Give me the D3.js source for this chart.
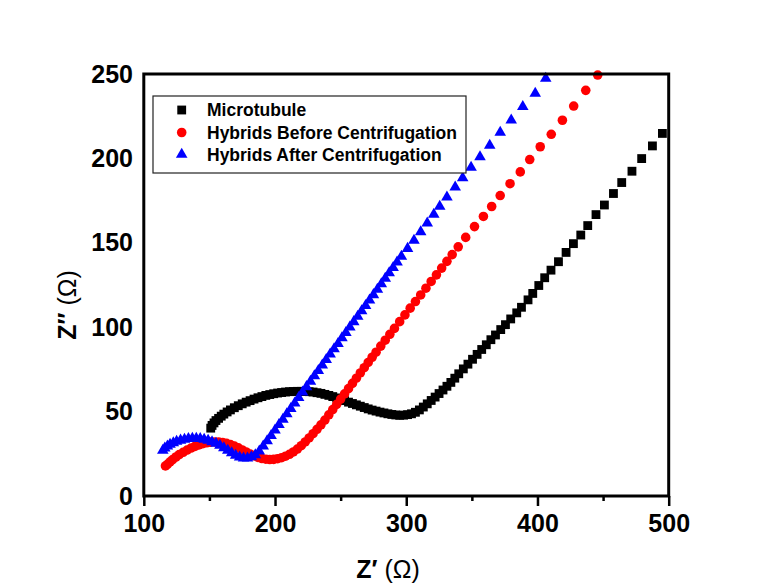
<!DOCTYPE html>
<html>
<head>
<meta charset="utf-8">
<script src="https://cdn.jsdelivr.net/npm/d3@7"></script>
<style>
  html, body { margin: 0; padding: 0; background: #fff; }
  svg { display: block; }
  text { font-family: "Liberation Sans", Arial, sans-serif; }
</style>
</head>
<body>
<svg id="chart" width="763" height="585"></svg>
<script>
// ---------------- data ----------------
const xTicks = [100, 200, 300, 400, 500];
const xMinorTicks = [150, 250, 350, 450];
const yTicks = [0, 50, 100, 150, 200, 250];

const seriesNames = ["Microtubule", "Hybrids Before Centrifugation", "Hybrids After Centrifugation"];

const microX = [151,152,153.5,155,157,159,161,163.5,166,169,172,175,178,181,184,187,190,193,196,199,202,205,208,211,214,217,220,223,226,229,232,235,238,241,244,247,250,253,256,259,262,265,268,271,274,277,280,283,286,289,292,295,298,301,304,307,310,313,316,319,322,325,328,331,334,337,340,343.5,347,350.5,354,357.5,361,364.5,368,372,375.6,379.6,384.2,387.8,392.8,396.4,401,405.5,410.3,416,421.8,427.4,433,438.3,444.6,451,457.9,464.2,472,479.4,487.6,495.2];
const microY = [40.2,41.8,43.3,44.7,46,47.3,48.5,49.8,51,52.3,53.5,54.6,55.6,56.5,57.4,58.2,58.9,59.6,60.1,60.6,61,61.3,61.6,61.8,61.9,62,62,61.9,61.8,61.6,61.2,60.8,60.2,59.6,58.9,58.1,57.3,56.5,55.6,54.8,54,53.2,52.4,51.6,50.9,50.3,49.7,49.2,48.7,48.3,48,47.8,47.9,48.2,48.7,49.6,51,52.7,54.6,56.6,58.6,60.7,62.8,65,67.3,69.8,72.4,75.3,78.1,81,83.9,86.8,89.6,92.6,95.4,98.6,101.5,104.9,108.5,111.8,116.2,120,124.7,129.3,133.8,138.8,144.3,149.5,154.6,160.2,166.7,172.4,179.2,185.7,192.4,199.9,207.4,214.8];

const beforeX = [116.5,118,120,122,124.5,127,130,133,136,139,142,145,148,151,154,157,160,163,166,169,172,175,178,181,184,187,190,193,196,199,202,205,208,211,214,217,220,223,226,229,232,235,238,241,244,247,250,253,256,259,262,265,268,271,274,277,280.6,284,287.5,291,295,299,303,307,311,315,319,323,327,331,335,339.6,345.3,352,358.8,365.1,371.6,379.1,386.9,394.1,402.1,410.5,419,427.6,436.8,445.9];
const beforeY = [17.8,18.8,20.2,21.6,23.1,24.5,25.9,27.2,28.4,29.4,30.3,31,31.5,31.9,32,32,31.7,31.2,30.5,29.6,28.5,27.3,26.1,24.9,23.8,22.9,22.2,21.8,21.6,21.7,22.1,22.7,23.6,24.7,26.1,27.8,29.8,32,34.4,36.9,39.5,42.2,45,48.1,51.2,54.3,57.4,60.5,63.6,66.7,69.8,72.9,76,79.1,82.2,85.2,88.8,92.3,95.8,99.3,103.3,107.3,111.3,115.2,119.1,123.1,127.1,131,135,139,143,147.6,153.2,159.6,165.6,171.5,178,185,192,199.3,206.9,214.3,222.6,231,240.3,249.4];

const afterX = [114.5,116,118,120,122.5,125,128,131,134,137,140,143,146,149,152,155,158,161,164,167,170,173,176,179,182,185,188,191,194,197,200,203,206,209,212,215,218,221,224,227,230,233,236,239,242,245,248,251,254,257,260,263,266,269,272,275,278,281,284,287,290,293,296.3,301,305.9,311,316,321,325.5,331,337.3,343,349.4,356.2,363.6,371.6,380,388.8,398.3,406.3];
const afterY = [27,28.3,29.5,30.5,31.5,32.3,33,33.5,33.9,34.1,34.1,33.9,33.5,32.9,32.1,31.1,29.9,28.5,27,25.5,24.1,23,22.4,22.4,23.1,24.4,26.5,29.5,32.6,35.8,39,42.2,45.4,48.6,51.8,55,58.2,61.5,64.7,67.9,71.1,74.3,77.5,80.7,84,87.1,90.3,93.6,96.8,100,103.2,106.4,109.6,112.8,116,119.2,122.4,125.7,128.9,132.1,135.3,138.5,141.9,146.6,151.4,156.4,161.6,166.8,171.5,177,183,188.5,194.6,200.9,207.7,215.4,222.7,230.6,238.5,247.4];

// ---------------- layout ----------------
const svg = d3.select("#chart");
svg.append("rect").attr("width", 763).attr("height", 585).attr("fill", "#fff");

const x = d3.scaleLinear().domain([100, 500]).range([143.8, 668.7]);
const y = d3.scaleLinear().domain([0, 250]).range([496, 74]);

const series = [
  { name: seriesNames[0], xs: microX, ys: microY, color: "#000000", type: d3.symbolSquare, size: 78 },
  { name: seriesNames[1], xs: beforeX, ys: beforeY, color: "#ff0000", type: d3.symbolCircle, size: 72 },
  { name: seriesNames[2], xs: afterX, ys: afterY, color: "#0000ff", type: d3.symbolTriangle, size: 58 }
];

// data markers
series.forEach(s => {
  const pts = s.xs.map((v, i) => [v, s.ys[i]]);
  svg.append("g")
    .selectAll("path")
    .data(pts)
    .join("path")
    .attr("d", d3.symbol().type(s.type).size(s.size))
    .attr("transform", d => `translate(${x(d[0])},${y(d[1])})`)
    .attr("fill", s.color);
});

// x axis (major)
const xAxisG = svg.append("g")
  .attr("transform", `translate(0,${y(0)})`)
  .call(d3.axisBottom(x).tickValues(xTicks).tickSize(10).tickPadding(8.5).tickFormat(d3.format("d")));
xAxisG.select(".domain").remove();
xAxisG.selectAll("line").attr("stroke", "#000").attr("stroke-width", 2.5);
xAxisG.selectAll("text")
  .attr("fill", "#000")
  .style("font-size", "25px")
  .style("font-weight", "bold");

// x axis (minor)
const xMinorG = svg.append("g")
  .attr("transform", `translate(0,${y(0)})`)
  .call(d3.axisBottom(x).tickValues(xMinorTicks).tickSize(5).tickFormat(""));
xMinorG.select(".domain").remove();
xMinorG.selectAll("line").attr("stroke", "#000").attr("stroke-width", 2.5);

// y axis
const yAxisG = svg.append("g")
  .attr("transform", `translate(${x(100)},0)`)
  .call(d3.axisLeft(y).tickValues(yTicks).tickSize(0).tickPadding(10.8).tickFormat(d3.format("d")));
yAxisG.select(".domain").remove();
yAxisG.selectAll("text")
  .attr("fill", "#000")
  .style("font-size", "25px")
  .style("font-weight", "bold");

// frame
svg.append("rect")
  .attr("x", x(100)).attr("y", y(250))
  .attr("width", x(500) - x(100)).attr("height", y(0) - y(250))
  .attr("fill", "none").attr("stroke", "#000").attr("stroke-width", 3);

// axis titles
const xt = svg.append("text")
  .attr("x", 388).attr("y", 578)
  .attr("text-anchor", "middle")
  .style("font-size", "25px");
xt.append("tspan").style("font-weight", "bold").text("Z\u2032 ");
xt.append("tspan").style("font-weight", "normal").text("(\u03A9)");

const yt = svg.append("text")
  .attr("transform", "translate(76,305) rotate(-90)")
  .attr("text-anchor", "middle")
  .style("font-size", "25px");
yt.append("tspan").style("font-weight", "bold").text("Z\u2032\u2032 ");
yt.append("tspan").style("font-weight", "normal").text("(\u03A9)");

// legend
const lg = svg.append("g");
lg.append("rect")
  .attr("x", 153).attr("y", 96).attr("width", 313).attr("height", 77)
  .attr("fill", "#fff").attr("stroke", "#222").attr("stroke-width", 1.2);
const rowY = [110, 132.5, 154.5];
series.forEach((s, i) => {
  lg.append("path")
    .attr("d", d3.symbol().type(s.type).size(s.size))
    .attr("transform", `translate(181.7,${rowY[i]})`)
    .attr("fill", s.color);
  lg.append("text")
    .attr("x", 207).attr("y", rowY[i])
    .attr("dy", "0.36em")
    .style("font-size", "17.5px")
    .style("font-weight", "bold")
    .attr("fill", "#000")
    .text(s.name);
});
</script>
</body>
</html>
